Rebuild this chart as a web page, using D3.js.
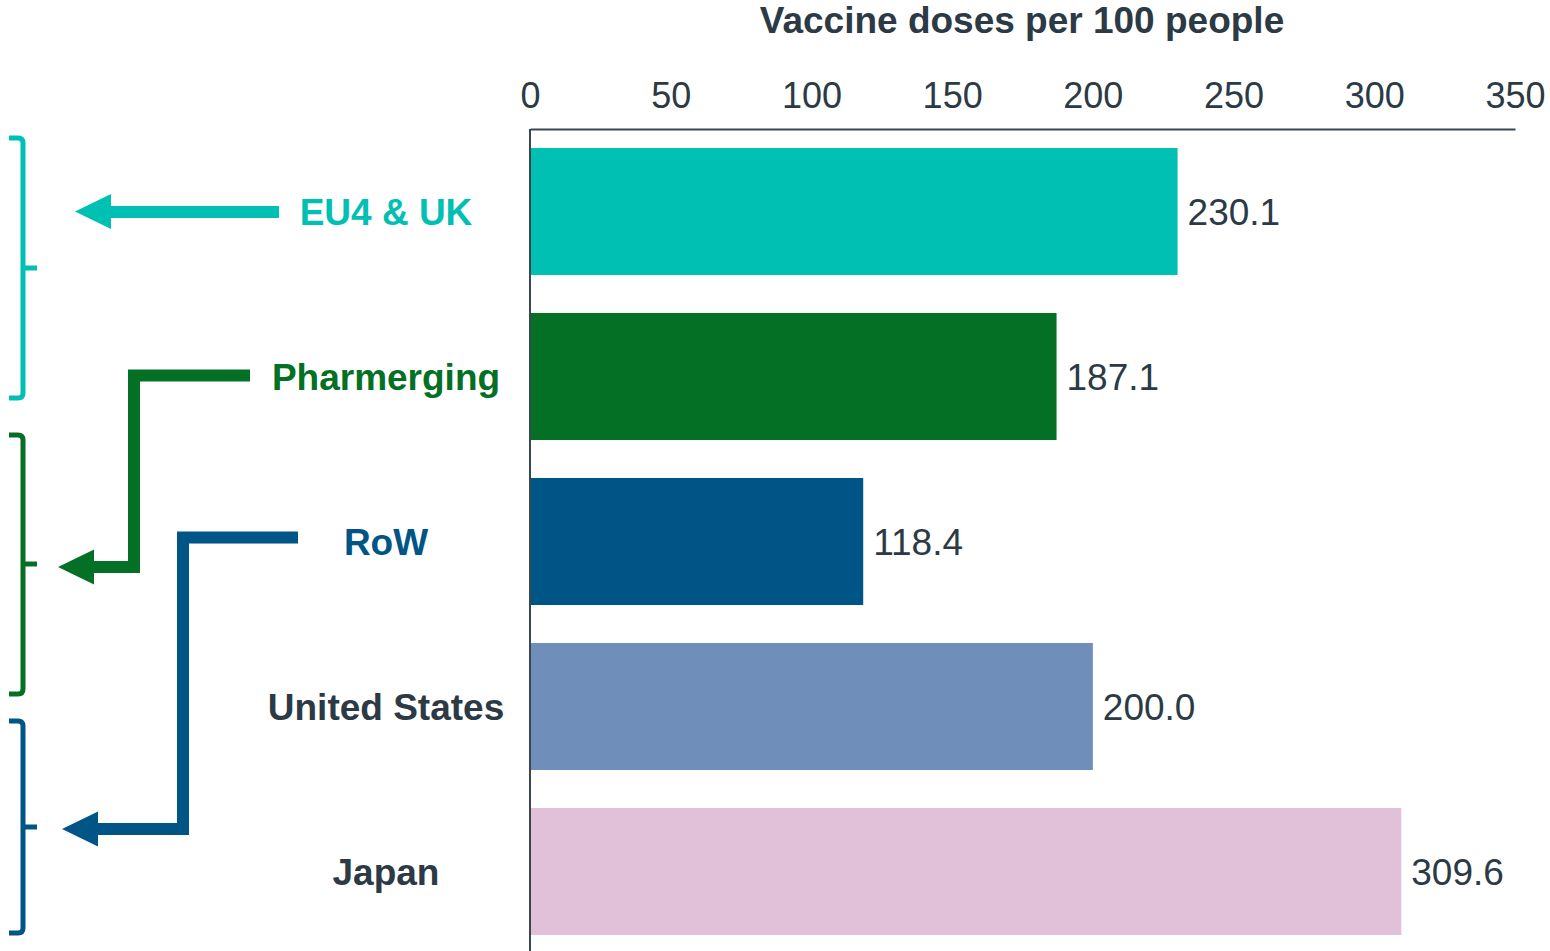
<!DOCTYPE html>
<html>
<head>
<meta charset="utf-8">
<script src="https://cdn.jsdelivr.net/npm/d3@7"></script>
<style>
  html, body { margin: 0; padding: 0; background: #fff; }
  svg { display: block; font-family: "Liberation Sans", Arial, sans-serif; }
</style>
</head>
<body>
<svg id="chart" width="1550" height="951"></svg>
<script>
// Vaccine doses per 100 people by region
const categories = ["EU4 & UK", "Pharmerging", "RoW", "United States", "Japan"];
const doses = [230.1, 187.1, 118.4, 200.0, 309.6];
const barColors = ["#00bfb3", "#047025", "#005587", "#6f8fba", "#e0c1d9"];
const labelColors = ["#00bfb3", "#047025", "#005587", "#2b3a45", "#2b3a45"];
const xTicks = [0, 50, 100, 150, 200, 250, 300, 350];
const axisTitle = "Vaccine doses per 100 people";

const textColor = "#2b3a45";
const svg = d3.select("#chart");

const x = d3.scaleLinear().domain([0, 350]).range([530, 1515]);
const y = d3.scaleBand().domain(categories).range([129, 954])
  .paddingInner(0.23).paddingOuter(0.115);

// axis title
svg.append("text")
  .attr("x", 1022).attr("y", 33)
  .attr("text-anchor", "middle")
  .attr("font-size", 37).attr("font-weight", "bold")
  .attr("fill", textColor)
  .text(axisTitle);

// top axis
const xAxis = d3.axisTop(x).tickValues(xTicks).tickSize(0).tickPadding(21)
  .tickFormat(d3.format("d"));
const gx = svg.append("g").attr("transform", "translate(0,129)").call(xAxis);
gx.select(".domain").attr("stroke", "#3a4750").attr("stroke-width", 2);
gx.selectAll("text").attr("font-size", 36).attr("fill", textColor)
  .attr("font-family", "Liberation Sans, Arial, sans-serif");

// left axis line
svg.append("line")
  .attr("x1", x(0)).attr("x2", x(0)).attr("y1", 129).attr("y2", 951)
  .attr("stroke", "#3a4750").attr("stroke-width", 2);

// bars
svg.selectAll("rect.bar").data(categories).join("rect")
  .attr("class", "bar")
  .attr("x", x(0) + 1)
  .attr("y", d => y(d))
  .attr("width", (d, i) => x(doses[i]) - x(0) - 1)
  .attr("height", y.bandwidth())
  .attr("fill", (d, i) => barColors[i]);

// value labels
svg.selectAll("text.val").data(categories).join("text")
  .attr("class", "val")
  .attr("x", (d, i) => x(doses[i]) + 10)
  .attr("y", d => y(d) + y.bandwidth() / 2)
  .attr("dy", "0.36em")
  .attr("font-size", 37)
  .attr("fill", textColor)
  .text((d, i) => d3.format(".1f")(doses[i]));

// category labels
svg.selectAll("text.cat").data(categories).join("text")
  .attr("class", "cat")
  .attr("x", 386)
  .attr("y", d => y(d) + y.bandwidth() / 2)
  .attr("dy", "0.36em")
  .attr("text-anchor", "middle")
  .attr("font-size", 37).attr("font-weight", "bold")
  .attr("fill", (d, i) => labelColors[i])
  .text(d => d);

// group brackets on the far left
const brackets = [
  { top: 138, mid: 268, bottom: 398, color: "#00bfb3" },
  { top: 435, mid: 564, bottom: 694, color: "#047025" },
  { top: 721, mid: 827, bottom: 933, color: "#005587" }
];
const bx = 23, r = 5;
brackets.forEach(b => {
  svg.append("path")
    .attr("d", `M9,${b.top} L${bx - r},${b.top} Q${bx},${b.top} ${bx},${b.top + r} ` +
               `L${bx},${b.bottom - r} Q${bx},${b.bottom} ${bx - r},${b.bottom} L9,${b.bottom}`)
    .attr("fill", "none").attr("stroke", b.color).attr("stroke-width", 5);
  svg.append("line")
    .attr("x1", bx).attr("x2", 37).attr("y1", b.mid).attr("y2", b.mid)
    .attr("stroke", b.color).attr("stroke-width", 5);
});

// arrows linking labels to brackets
const arrows = [
  { pts: [[279, 212], [108, 212]], tip: [75, 211.5], color: "#00bfb3" },
  { pts: [[250, 375.5], [134, 375.5], [134, 567], [92, 567]], tip: [58, 567], color: "#047025" },
  { pts: [[298, 537.5], [183, 537.5], [183, 829], [96, 829]], tip: [62, 829], color: "#005587" }
];
const line = d3.line();
arrows.forEach(a => {
  svg.append("path")
    .attr("d", line(a.pts))
    .attr("fill", "none").attr("stroke", a.color).attr("stroke-width", 12)
    .attr("stroke-linejoin", "miter");
  const [tx, ty] = a.tip;
  svg.append("path")
    .attr("d", `M${tx},${ty} L${tx + 36},${ty - 17.5} L${tx + 36},${ty + 17.5} Z`)
    .attr("fill", a.color);
});
</script>
</body>
</html>
